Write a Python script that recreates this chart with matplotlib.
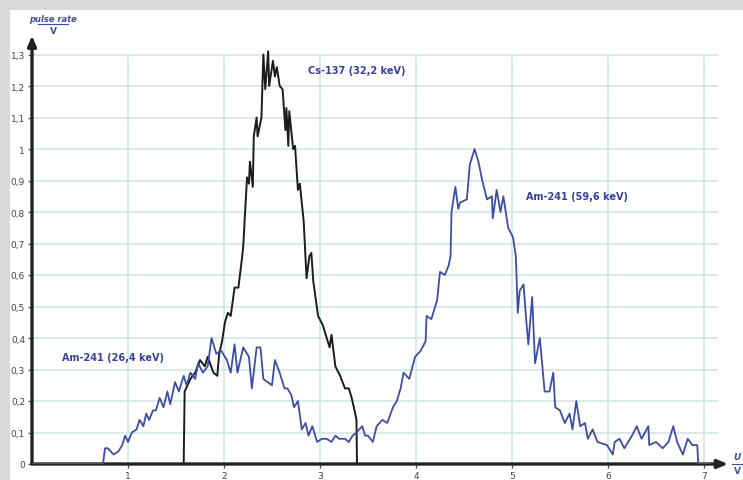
import matplotlib
matplotlib.use("Agg")
import matplotlib.pyplot as plt
from matplotlib.patches import Rectangle
from matplotlib.lines import Line2D

# Am-241 spectrum (blue)
am_x = [0, 0.74, 0.76, 0.79, 0.85, 0.90, 0.94, 0.97, 1.0, 1.04, 1.09, 1.12, 1.16, 1.19, 1.22,
        1.26, 1.29, 1.33, 1.37, 1.41, 1.44, 1.49, 1.53, 1.58, 1.61, 1.65, 1.70, 1.73, 1.78, 1.83,
        1.87, 1.92, 1.97, 2.03, 2.07, 2.11, 2.14, 2.20, 2.26, 2.29, 2.34, 2.38, 2.41, 2.50, 2.53,
        2.58, 2.63, 2.66, 2.70, 2.73, 2.77, 2.81, 2.85, 2.88, 2.92, 2.97, 3.02, 3.07, 3.12, 3.16,
        3.20, 3.26, 3.30, 3.34, 3.38, 3.44, 3.47, 3.50, 3.55, 3.59, 3.65, 3.70, 3.76, 3.80, 3.84,
        3.87, 3.93, 3.99, 4.05, 4.10, 4.11, 4.16, 4.22, 4.25, 4.30, 4.34, 4.36, 4.37, 4.41, 4.44,
        4.46, 4.53, 4.56, 4.61, 4.65, 4.69, 4.74, 4.79, 4.80, 4.84, 4.88, 4.91, 4.96, 5.01, 5.04,
        5.06, 5.08, 5.12, 5.15, 5.17, 5.21, 5.24, 5.29, 5.34, 5.39, 5.43, 5.45, 5.50, 5.55, 5.60,
        5.63, 5.67, 5.71, 5.76, 5.79, 5.84, 5.89, 5.99, 6.05, 6.07, 6.12, 6.17, 6.25, 6.30, 6.35,
        6.42, 6.43, 6.50, 6.57, 6.63, 6.68, 6.72, 6.78, 6.83, 6.88, 6.93, 6.94, 7.06]
am_y = [0, 0, 0.05, 0.05, 0.03, 0.04, 0.06, 0.09, 0.07, 0.10, 0.11, 0.14, 0.12, 0.16, 0.14,
        0.17, 0.17, 0.21, 0.18, 0.23, 0.19, 0.26, 0.23, 0.28, 0.25, 0.29, 0.27, 0.32, 0.29, 0.31,
        0.40, 0.35, 0.36, 0.33, 0.29, 0.38, 0.29, 0.37, 0.34, 0.24, 0.37, 0.37, 0.27, 0.25, 0.33,
        0.29, 0.24, 0.24, 0.22, 0.18, 0.20, 0.11, 0.13, 0.09, 0.12, 0.07, 0.08, 0.08, 0.07, 0.09,
        0.08, 0.08, 0.07, 0.09, 0.10, 0.12, 0.09, 0.09, 0.07, 0.12, 0.14, 0.13, 0.18, 0.20, 0.24,
        0.29, 0.27, 0.34, 0.36, 0.39, 0.47, 0.46, 0.52, 0.61, 0.60, 0.63, 0.66, 0.80, 0.88, 0.81,
        0.83, 0.84, 0.95, 1.00, 0.96, 0.90, 0.84, 0.85, 0.78, 0.87, 0.80, 0.85, 0.75, 0.72, 0.66,
        0.48, 0.55, 0.57, 0.45, 0.38, 0.53, 0.32, 0.40, 0.23, 0.23, 0.29, 0.18, 0.17, 0.13, 0.16,
        0.11, 0.20, 0.12, 0.13, 0.08, 0.11, 0.07, 0.06, 0.03, 0.07, 0.08, 0.05, 0.09, 0.12, 0.08,
        0.12, 0.06, 0.07, 0.05, 0.07, 0.12, 0.07, 0.03, 0.08, 0.06, 0.06, 0, 0]

# Cs-137 spectrum (black)
cs_x = [1.58, 1.59, 1.65, 1.70, 1.75, 1.80, 1.83, 1.89, 1.93, 1.95, 1.98, 2.01, 2.04, 2.07,
        2.11, 2.15, 2.19, 2.20, 2.24, 2.26, 2.27, 2.30, 2.31, 2.34, 2.35, 2.39, 2.41, 2.43, 2.46,
        2.47, 2.51, 2.53, 2.55, 2.58, 2.61, 2.64, 2.65, 2.67, 2.68, 2.72, 2.74, 2.77, 2.79, 2.83,
        2.86, 2.89, 2.91, 2.93, 2.98, 3.03, 3.07, 3.10, 3.12, 3.16, 3.21, 3.26, 3.30, 3.33, 3.36,
        3.38, 3.385]
cs_y = [0, 0.23, 0.27, 0.29, 0.33, 0.31, 0.34, 0.29, 0.28, 0.35, 0.39, 0.45, 0.48, 0.47,
        0.56, 0.56, 0.66, 0.69, 0.91, 0.89, 0.96, 0.88, 1.04, 1.10, 1.04, 1.10, 1.30, 1.19, 1.31,
        1.20, 1.28, 1.23, 1.26, 1.20, 1.19, 1.06, 1.13, 1.01, 1.12, 1.00, 1.01, 0.87, 0.89, 0.77,
        0.59, 0.66, 0.67, 0.58, 0.47, 0.44, 0.40, 0.37, 0.41, 0.31, 0.28, 0.24, 0.24, 0.21, 0.17,
        0.14, 0]

x_ticks = [1, 2, 3, 4, 5, 6, 7]
y_ticks = [0, 0.1, 0.2, 0.3, 0.4, 0.5, 0.6, 0.7, 0.8, 0.9, 1.0, 1.1, 1.2, 1.3]

labels = [("Cs-137 (32,2 keV)", 2.87, 1.25),
          ("Am-241 (59,6 keV)", 5.15, 0.85),
          ("Am-241 (26,4 keV)", 0.31, 0.34)]

W, H = 743, 481
fig = plt.figure(figsize=(W / 100, H / 100), dpi=100, facecolor="#d9d9d9")
# white sheet with a grey shadow round it
fig.patches.append(Rectangle((10 / W, 0), 1, (H - 11) / H, transform=fig.transFigure,
                             facecolor="white", edgecolor="none", zorder=-5))

xmax, ymax = 7.25, 1.36
left = 32 / W
bottom = (H - 465) / H
ax = fig.add_axes([left, bottom, xmax * 96 / W, ymax * 315 / H])
ax.set_zorder(2)
ax.set_xlim(0, xmax)
ax.set_ylim(0, ymax)
ax.patch.set_alpha(0)
for s in ax.spines.values():
    s.set_visible(False)

grid_c = "#d3e6e6"
ax.vlines(x_ticks, 0, 1.3, color=grid_c, lw=1.2, zorder=1)
ax.hlines(y_ticks[1:], 0, 7.15, color=grid_c, lw=1.2, zorder=1)

ax.plot(am_x, am_y, color="#3c4ea6", lw=1.3, zorder=4)
ax.plot(cs_x, cs_y, color="#1c1c1c", lw=1.4, zorder=3)

# axes with arrow heads
ax.annotate("", xy=(xmax, 0), xytext=(0, 0), annotation_clip=False,
            arrowprops=dict(arrowstyle="-|>,head_length=0.6,head_width=0.25", lw=2.4,
                            color="#222222", shrinkA=0, shrinkB=0), zorder=2)
ax.annotate("", xy=(0, ymax), xytext=(0, 0), annotation_clip=False,
            arrowprops=dict(arrowstyle="-|>,head_length=0.6,head_width=0.25", lw=2.4,
                            color="#222222", shrinkA=0, shrinkB=0), zorder=2)

ax.set_xticks(x_ticks)
ax.set_xticklabels([str(v) for v in x_ticks])
ax.set_yticks(y_ticks)
ax.set_yticklabels([("%g" % v).replace(".", ",") for v in y_ticks])
ax.tick_params(axis="both", direction="out", length=3, width=1, color="#555555",
               labelsize=6.5, labelcolor="#444444", pad=2)

for txt, x, y in labels:
    ax.text(x, y, txt, color="#3a3f9c", fontsize=7, fontweight="bold", va="center", ha="left",
            zorder=5)

# axis quantities written as fractions
blue = "#3c4ea6"
fig.text(53 / W, 1 - 19 / H, "pulse rate", color=blue, fontsize=6, style="italic",
         fontweight="bold", ha="center", va="center")
fig.add_artist(Line2D([38 / W, 68 / W], [1 - 25 / H, 1 - 25 / H], color=blue, lw=0.8))
fig.text(53 / W, 1 - 32 / H, "V", color=blue, fontsize=6.5, fontweight="bold",
         ha="center", va="center")

fig.text(737 / W, 1 - 458 / H, "U", color=blue, fontsize=6.5, style="italic",
         fontweight="bold", ha="center", va="center")
fig.add_artist(Line2D([732 / W, 742 / W], [1 - 465 / H, 1 - 465 / H], color=blue, lw=0.8))
fig.text(737 / W, 1 - 472 / H, "V", color=blue, fontsize=6.5, fontweight="bold",
         ha="center", va="center")

fig.savefig("out.png", dpi=100, facecolor=fig.get_facecolor())
